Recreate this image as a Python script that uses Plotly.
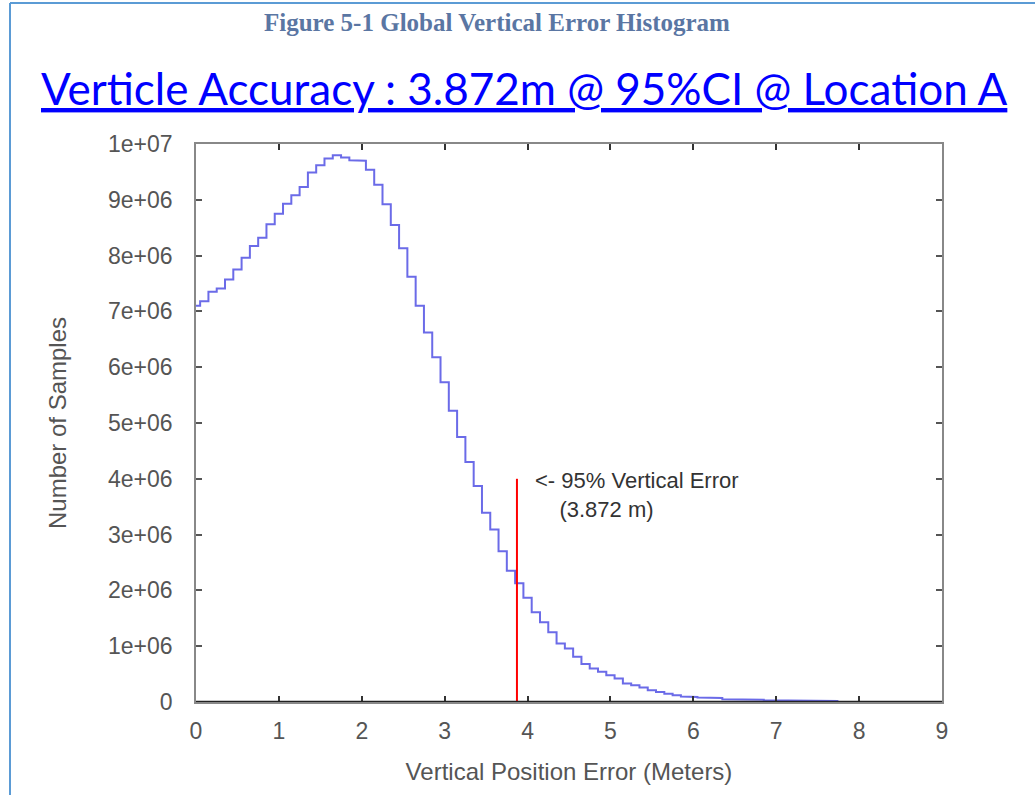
import plotly.graph_objects as go

# ---- data ----
bin_width = 0.1
bin_start = 0.0
counts_millions = [
    7.10, 7.18, 7.35, 7.41, 7.57, 7.75, 7.96, 8.17, 8.32, 8.56,
    8.75, 8.93, 9.08, 9.23, 9.49, 9.62, 9.74, 9.80, 9.76, 9.71,
    9.70, 9.54, 9.27, 8.92, 8.55, 8.13, 7.62, 7.10, 6.62, 6.18,
    5.73, 5.22, 4.75, 4.30, 3.87, 3.39, 3.09, 2.70, 2.35, 2.13,
    1.87, 1.61, 1.43, 1.25, 1.05, 0.96, 0.81, 0.68, 0.60, 0.54,
    0.48, 0.42, 0.33, 0.30, 0.26, 0.21, 0.18, 0.15, 0.12, 0.10,
    0.09, 0.08, 0.08, 0.07, 0.05, 0.05, 0.04, 0.04, 0.04, 0.03,
    0.03, 0.03, 0.03, 0.03, 0.02, 0.02, 0.02, 0.02,
]
ci95_value = 3.872
ci95_marker_top = 4e6

x_ticks = [0, 1, 2, 3, 4, 5, 6, 7, 8, 9]
y_ticks = [0, 1e6, 2e6, 3e6, 4e6, 5e6, 6e6, 7e6, 8e6, 9e6, 1e7]
y_tick_labels = ["0", "1e+06", "2e+06", "3e+06", "4e+06", "5e+06",
                 "6e+06", "7e+06", "8e+06", "9e+06", "1e+07"]

# ---- build histogram steps (gnuplot "histeps" style) ----
centers = [round(bin_start + i * bin_width, 3) for i in range(len(counts_millions))]
step_x, step_y = [], []
for c, v in zip(centers, counts_millions):
    step_x += [c - bin_width / 2, c + bin_width / 2]
    step_y += [v * 1e6, v * 1e6]

fig = go.Figure()
fig.add_trace(go.Scatter(
    x=step_x, y=step_y, mode="lines",
    line=dict(color="#6b6be8", width=2), hoverinfo="skip", showlegend=False,
))
fig.add_trace(go.Scatter(
    x=[ci95_value, ci95_value], y=[0, ci95_marker_top], mode="lines",
    line=dict(color="#ff0000", width=2), hoverinfo="skip", showlegend=False,
))

SANS = "Liberation Sans, DejaVu Sans, sans-serif"
tick_font = dict(family=SANS, size=23, color="#555555")
title_font = dict(family=SANS, size=24, color="#555555")

fig.update_layout(
    width=1035, height=795,
    margin=dict(l=196, r=93, t=144, b=93),
    paper_bgcolor="white", plot_bgcolor="white",
    showlegend=False,
    xaxis=dict(
        range=[0, 9], tickvals=x_ticks, ticktext=[str(t) for t in x_ticks],
        ticks="inside", ticklen=6, tickcolor="#333333", tickwidth=1.5,
        showline=True, linecolor="#888888", linewidth=1.5, mirror="ticks",
        showgrid=False, zeroline=False, tickfont=tick_font, ticklabelstandoff=8,
        title=dict(text="Vertical Position Error (Meters)", font=title_font, standoff=20),
    ),
    yaxis=dict(
        range=[0, 1e7], tickvals=y_ticks, ticktext=y_tick_labels,
        ticks="inside", ticklen=6, tickcolor="#555555", tickwidth=1.5,
        showline=True, linecolor="#888888", linewidth=1.5, mirror="ticks",
        showgrid=False, zeroline=False, tickfont=tick_font, ticklabelstandoff=17,
        title=dict(text="Number of Samples", font=title_font, standoff=35),
    ),
)

# dark baseline on the x axis
fig.add_shape(type="line", xref="paper", yref="y", x0=0, x1=1, y0=0, y1=0,
              line=dict(color="#222222", width=2.5))

# page border (blue) on left and top
fig.add_shape(type="line", xref="paper", yref="paper",
              x0=(10 - 196) / 746, x1=(10 - 196) / 746, y0=-93 / 558, y1=(702 - 3) / 558,
              line=dict(color="#5b9bd5", width=2))
fig.add_shape(type="line", xref="paper", yref="paper",
              x0=(10 - 196) / 746, x1=(1035 - 196) / 746, y0=(702 - 3) / 558, y1=(702 - 3) / 558,
              line=dict(color="#5b9bd5", width=2))

# figure caption and title
fig.add_annotation(
    text="<b>Figure 5-1 Global Vertical Error Histogram</b>",
    xref="paper", yref="paper", x=(497 - 196) / 746, y=(702 - 22) / 558,
    xanchor="center", yanchor="middle", showarrow=False,
    font=dict(family="Liberation Serif, serif", size=25, color="#5a76a3"),
)
fig.add_annotation(
    text="<u>Verticle Accuracy : 3.872m @ 95%CI @ Location A</u>",
    xref="paper", yref="paper", x=(524 - 196) / 746, y=(702 - 88) / 558,
    xanchor="center", yanchor="middle", showarrow=False,
    font=dict(family="Lato, sans-serif", size=44, color="#0000ff"),
)

# 95% annotation (two lines in one text block)
ann_font = dict(family=SANS, size=22, color="#333333")
fig.add_annotation(
    text="<- 95% Vertical Error<br>&nbsp;&nbsp;&nbsp;&nbsp;(3.872 m)",
    x=4.065, y=4.23e6, xref="x", yref="y",
    xanchor="left", yanchor="top", align="left", showarrow=False, font=ann_font,
)

fig.write_html("out.html")
